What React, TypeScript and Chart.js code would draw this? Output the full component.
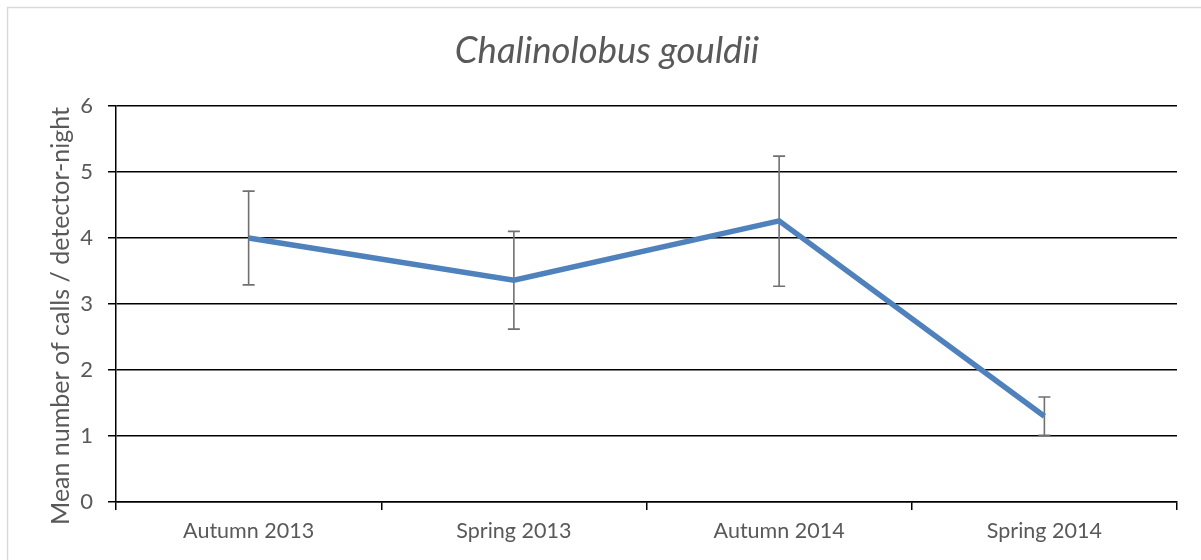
import { useEffect, useRef } from "react";
import { Chart, registerables } from "chart.js";

Chart.register(...registerables);

const seasons = ["Autumn 2013", "Spring 2013", "Autumn 2014", "Spring 2014"];
const meanCalls = [4.0, 3.36, 4.26, 1.3];
const errorLow = [3.29, 2.62, 3.27, 1.01];
const errorHigh = [4.71, 4.1, 5.24, 1.59];
const yMin = 0;
const yMax = 6;
const yStep = 1;

const titleText = "Chalinolobus gouldii";
const yTitleText = "Mean number of calls / detector-night";

const FONT = "Lato, 'Open Sans', sans-serif";
const TEXT_GRAY = "#595959";

const frame = {
  id: "frame",
  beforeDraw(chart: any) {
    const ctx = chart.ctx;
    ctx.save();
    ctx.fillStyle = "#ffffff";
    ctx.fillRect(0, 0, chart.width, chart.height);
    ctx.strokeStyle = "#d9d9d9";
    ctx.lineWidth = 1.5;
    ctx.strokeRect(7.5, 7.5, chart.width + 20, chart.height + 20);
    ctx.restore();
  },
};

const texts = {
  id: "texts",
  afterDraw(chart: any) {
    const ctx = chart.ctx;
    ctx.save();
    ctx.fillStyle = TEXT_GRAY;
    ctx.textAlign = "center";
    ctx.textBaseline = "middle";
    ctx.font = `italic 36.5px ${FONT}`;
    ctx.fillText(titleText, 607, 51);
    ctx.translate(61, 316);
    ctx.rotate(-Math.PI / 2);
    ctx.font = `25px ${FONT}`;
    ctx.fillText(yTitleText, 0, 0);
    ctx.restore();
  },
};

const errorBars = {
  id: "errorBars",
  beforeDatasetsDraw(chart: any) {
    const { ctx, scales } = chart;
    const x = scales.x;
    const y = scales.y;
    ctx.save();
    ctx.strokeStyle = "#707070";
    ctx.lineWidth = 1.6;
    seasons.forEach((_, i) => {
      const px = x.getPixelForValue(i);
      const top = y.getPixelForValue(errorHigh[i]);
      const bot = y.getPixelForValue(errorLow[i]);
      ctx.beginPath();
      ctx.moveTo(px, top);
      ctx.lineTo(px, bot);
      ctx.moveTo(px - 6, top);
      ctx.lineTo(px + 6, top);
      ctx.moveTo(px - 6, bot);
      ctx.lineTo(px + 6, bot);
      ctx.stroke();
    });
    ctx.restore();
  },
};

export default function App() {
  const canvasRef = useRef<HTMLCanvasElement | null>(null);

  useEffect(() => {
    if (!canvasRef.current) return;
    const chart = new Chart(canvasRef.current, {
      type: "line",
      data: {
        labels: seasons,
        datasets: [
          {
            label: "Mean",
            data: meanCalls,
            borderColor: "#4F81BD",
            backgroundColor: "#4F81BD",
            borderWidth: 5.5,
            pointRadius: 0,
            pointHoverRadius: 0,
            tension: 0,
            fill: false,
          },
        ],
      },
      options: {
        responsive: false,
        animation: false,
        devicePixelRatio: 1,
        layout: { padding: { left: 0, right: 24, top: 106, bottom: 0 } },
        plugins: {
          legend: { display: false },
          tooltip: { enabled: false },
          title: { display: false },
        },
        scales: {
          x: {
            type: "category",
            offset: true,
            grid: {
              display: true,
              offset: true,
              drawOnChartArea: false,
              drawTicks: true,
              tickLength: 8,
              color: "#000000",
              lineWidth: 1.5,
            },
            border: { display: true, color: "#000000", width: 1.5 },
            ticks: {
              color: TEXT_GRAY,
              font: { family: FONT, size: 21.5 },
              padding: 8,
              maxRotation: 0,
            },
            afterFit(scale: any) {
              scale.height = 58;
            },
          },
          y: {
            min: yMin,
            max: yMax,
            grid: {
              display: true,
              drawTicks: true,
              tickLength: 8,
              color: "#000000",
              lineWidth: 1.5,
            },
            border: { display: true, color: "#000000", width: 1.5 },
            ticks: {
              stepSize: yStep,
              color: TEXT_GRAY,
              font: { family: FONT, size: 22 },
              padding: 15,
            },
            title: { display: false },
            afterFit(scale: any) {
              scale.width = 116;
            },
          },
        },
      },
      plugins: [frame, errorBars, texts],
    });
    return () => chart.destroy();
  }, []);

  return (
    <div style={{ position: "absolute", left: 0, top: 0, width: 1201, height: 560 }}>
      <canvas ref={canvasRef} width={1201} height={560} style={{ width: 1201, height: 560, display: "block" }} />
    </div>
  );
}
